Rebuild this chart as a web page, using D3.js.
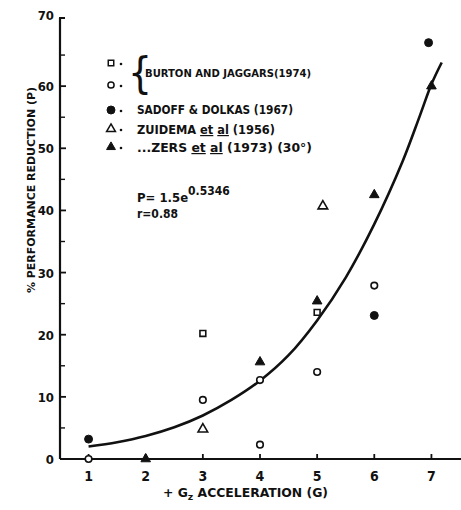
<!DOCTYPE html>
<html>
<head>
<meta charset="utf-8">
<script src="https://cdn.jsdelivr.net/npm/d3@7"></script>
<style>
  body { margin: 0; background: #fff; }
  svg text { font-family: "DejaVu Sans Condensed", "Liberation Sans Narrow", sans-serif; font-weight: bold; fill: #111; }
</style>
</head>
<body>
<div class="chart"></div>
<script>
// values
const xTicks = [1, 2, 3, 4, 5, 6, 7];
const yTicks = [0, 10, 20, 30, 40, 50, 60, 70];
const yMinor = [5, 15, 25, 35, 45, 55, 65];

// Burton and Jaggars (1974)
const burtonSquares = [[3, 20.2], [5, 23.6]];
const burtonCircles = [[1, 0], [3, 9.5], [4, 12.7], [4, 2.3], [5, 14.0], [6, 27.9]];
// Sadoff & Dolkas (1967)
const sadoff = [[1, 3.2], [6, 23.1], [6.95, 67]];
// Zuidema et al (1956)
const zuidema = [[3, 4.8], [5.1, 40.7]];
// ..ZERS et al (1973) (30 deg)
const zers = [[2, 0], [4, 15.6], [5, 25.4], [6, 42.5], [7, 60]];

// fitted curve
const fitCurve = [[1, 2.0], [1.5, 2.7], [2, 3.7], [2.5, 5.1], [3, 7.0], [3.5, 9.5], [4, 12.6],
  [4.5, 16.7], [5, 22.3], [5.5, 29.2], [6, 37.8], [6.5, 48], [6.8, 55.3], [7, 60.3], [7.18, 63.8]];

const width = 461, height = 510;

const svg = d3.select(".chart").append("svg")
  .attr("width", width)
  .attr("height", height);

const x = d3.scaleLinear().domain([0.5, 7.5]).range([60, 460]);
const y = d3.scaleLinear().domain([0, 70]).range([459, 24]);

// axes
svg.append("line")
  .attr("x1", x(0.5)).attr("x2", width)
  .attr("y1", y(0)).attr("y2", y(0))
  .attr("stroke", "#111").attr("stroke-width", 2);
svg.append("line")
  .attr("x1", x(0.5)).attr("x2", x(0.5))
  .attr("y1", y(0)).attr("y2", y(70) - 6)
  .attr("stroke", "#111").attr("stroke-width", 2.2);
svg.append("line")
  .attr("x1", x(0.5) - 1).attr("x2", x(0.5) + 5)
  .attr("y1", y(70) - 6).attr("y2", y(70) - 6)
  .attr("stroke", "#111").attr("stroke-width", 2);

svg.selectAll(".ytick")
  .data(yTicks.slice(1, -1))
  .enter().append("line")
  .attr("class", "ytick")
  .attr("x1", x(0.5)).attr("x2", x(0.5) + 6)
  .attr("y1", d => y(d)).attr("y2", d => y(d))
  .attr("stroke", "#111").attr("stroke-width", 1.8);

svg.selectAll(".yminor")
  .data(yMinor)
  .enter().append("line")
  .attr("class", "yminor")
  .attr("x1", x(0.5)).attr("x2", x(0.5) + 5)
  .attr("y1", d => y(d)).attr("y2", d => y(d))
  .attr("stroke", "#111").attr("stroke-width", 1.4);

svg.selectAll(".ylab")
  .data(yTicks)
  .enter().append("text")
  .attr("class", "ylab")
  .attr("x", x(0.5) - 6)
  .attr("y", (d, i) => i === yTicks.length - 1 ? y(d) - 4 : y(d) + 5)
  .attr("text-anchor", "end")
  .attr("font-size", 13)
  .text(d => d);

svg.selectAll(".xtick")
  .data(xTicks)
  .enter().append("line")
  .attr("class", "xtick")
  .attr("x1", d => x(d)).attr("x2", d => x(d))
  .attr("y1", y(0)).attr("y2", y(0) - 5)
  .attr("stroke", "#111").attr("stroke-width", 1.8);

svg.selectAll(".xlab")
  .data(xTicks)
  .enter().append("text")
  .attr("class", "xlab")
  .attr("x", d => x(d))
  .attr("y", 481)
  .attr("text-anchor", "middle")
  .attr("font-size", 14)
  .text(d => d);

// axis titles
const xt = svg.append("text")
  .attr("x", 163).attr("y", 497)
  .attr("font-size", 12)
  .attr("textLength", 165).attr("lengthAdjust", "spacingAndGlyphs");
xt.append("tspan").text("+ G");
xt.append("tspan").attr("font-size", 9).attr("dy", 3).text("z");
xt.append("tspan").attr("dy", -3).text(" ACCELERATION  (G)");

svg.append("text")
  .attr("transform", "translate(35,293) rotate(-90)")
  .attr("font-size", 10)
  .attr("textLength", 206).attr("lengthAdjust", "spacingAndGlyphs")
  .text("% PERFORMANCE REDUCTION (P)");

// fitted curve
svg.append("path")
  .datum(fitCurve)
  .attr("fill", "none")
  .attr("stroke", "#111")
  .attr("stroke-width", 2.6)
  .attr("d", d3.line().x(d => x(d[0])).y(d => y(d[1])).curve(d3.curveCatmullRom));

// markers
const sym = (type, size) => d3.symbol().type(type).size(size)();

function drawSeries(data, type, size, filled) {
  svg.append("g").selectAll("path")
    .data(data)
    .enter().append("path")
    .attr("transform", d => "translate(" + x(d[0]) + "," + y(d[1]) + ")")
    .attr("d", sym(type, size))
    .attr("fill", filled ? "#111" : "#fff")
    .attr("stroke", "#111")
    .attr("stroke-width", filled ? 1 : 1.6);
}
drawSeries(burtonSquares, d3.symbolSquare, 34, false);
drawSeries(burtonCircles, d3.symbolCircle, 34, false);
drawSeries(sadoff, d3.symbolCircle, 50, true);
drawSeries(zuidema, d3.symbolTriangle, 40, false);
drawSeries(zers, d3.symbolTriangle, 40, true);

// legend
const lg = svg.append("g");
const legendMarkers = [
  [63, d3.symbolSquare, 30, false],
  [85, d3.symbolCircle, 30, false],
  [110, d3.symbolCircle, 50, true],
  [129, d3.symbolTriangle, 34, false],
  [147, d3.symbolTriangle, 34, true]
];
legendMarkers.forEach(m => {
  lg.append("path")
    .attr("transform", "translate(111," + m[0] + ")")
    .attr("d", sym(m[1], m[2]))
    .attr("fill", m[3] ? "#111" : "#fff")
    .attr("stroke", "#111")
    .attr("stroke-width", m[3] ? 1 : 1.5);
  lg.append("circle")
    .attr("cx", 121).attr("cy", m[0] + 1)
    .attr("r", 1.3)
    .attr("fill", "#111");
});

lg.append("text")
  .attr("x", 128).attr("y", 88)
  .attr("font-size", 42)
  .style("font-weight", "normal")
  .text("{");

lg.append("text").attr("x", 145).attr("y", 77).attr("font-size", 11)
  .attr("textLength", 166).attr("lengthAdjust", "spacingAndGlyphs")
  .text("BURTON AND JAGGARS(1974)");
lg.append("text").attr("x", 137).attr("y", 114).attr("font-size", 12)
  .attr("textLength", 156).attr("lengthAdjust", "spacingAndGlyphs")
  .text("SADOFF & DOLKAS (1967)");

const z1 = lg.append("text").attr("x", 137).attr("y", 134).attr("font-size", 12)
  .attr("textLength", 138).attr("lengthAdjust", "spacingAndGlyphs");
z1.append("tspan").text("ZUIDEMA ");
z1.append("tspan").attr("text-decoration", "underline").text("et");
z1.append("tspan").text(" ");
z1.append("tspan").attr("text-decoration", "underline").text("al");
z1.append("tspan").text(" (1956)");

const z2 = lg.append("text").attr("x", 137).attr("y", 152).attr("font-size", 12)
  .attr("textLength", 175).attr("lengthAdjust", "spacingAndGlyphs");
z2.append("tspan").text("...ZERS ");
z2.append("tspan").attr("text-decoration", "underline").text("et");
z2.append("tspan").text(" ");
z2.append("tspan").attr("text-decoration", "underline").text("al");
z2.append("tspan").text(" (1973) (30°)");

// formula
const f = lg.append("text").attr("x", 137).attr("y", 202).attr("font-size", 13);
f.append("tspan").text("P= 1.5e");
f.append("tspan").attr("dy", -7).attr("font-size", 12).text("0.5346");
lg.append("text").attr("x", 137).attr("y", 218).attr("font-size", 12).text("r=0.88");
</script>
</body>
</html>
